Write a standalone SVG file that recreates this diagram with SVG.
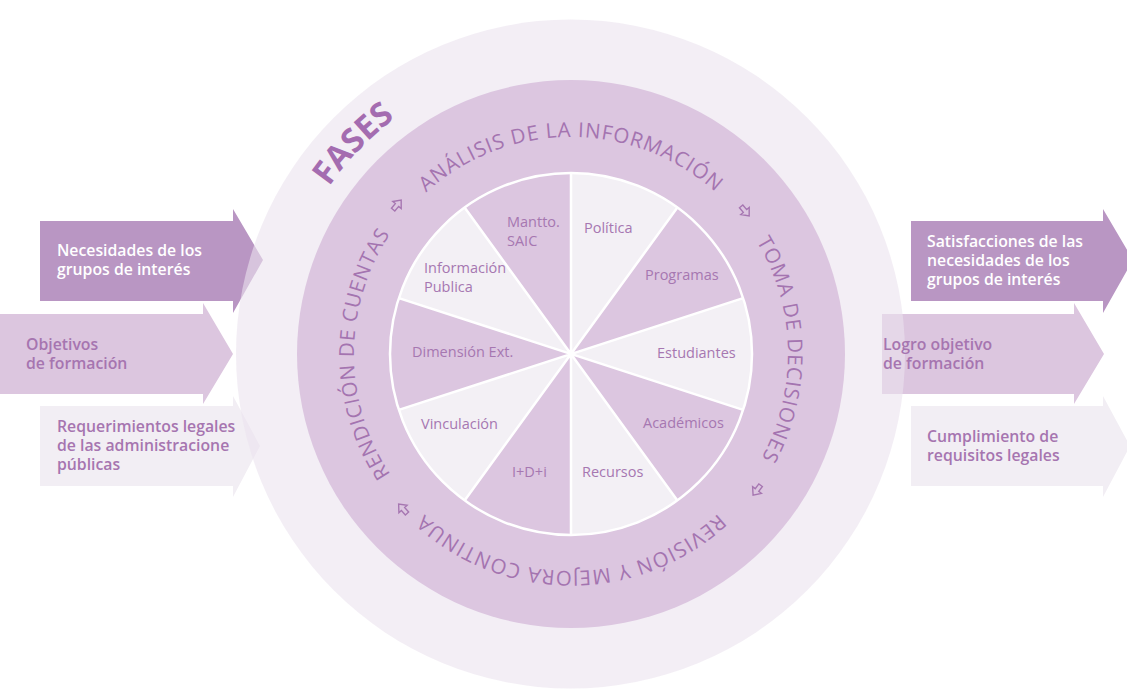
<svg xmlns="http://www.w3.org/2000/svg" xmlns:xlink="http://www.w3.org/1999/xlink" width="1127" height="695" viewBox="0 0 1127 695">
  <style>
    .dark { fill: #b996c3; }
    .mid { fill: #dcc6df; }
    .light { fill: #f2eef4; }
    .atw { font-family: "Open Sans", "Liberation Sans", sans-serif; font-size: 15.8px; font-weight: 600; fill: #ffffff; }
    .atp { font-family: "Open Sans", "Liberation Sans", sans-serif; font-size: 15.8px; font-weight: 600; fill: #a675b0; }
    .ring { font-family: "Open Sans", "Liberation Sans", sans-serif; font-size: 20.5px; fill: #a474b0; letter-spacing: 0.9px; }
    .slice { font-family: "Open Sans", "Liberation Sans", sans-serif; font-size: 14.5px; fill: #a677b1; }
    .sarrow { fill: none; stroke: #a676b1; stroke-width: 1.4; stroke-linejoin: miter; }
    .fases { font-family: "Open Sans", "Liberation Sans", sans-serif; font-size: 33px; font-weight: 700; fill: #a46cb0; }
  </style>
  <defs>
    <path id="pTop" d="M383.07,245.5 A217,217 0 0 1 758.93,245.5"/>
    <path id="pRight" d="M679.5,166.07 A217,217 0 0 1 679.5,541.93"/>
    <path id="pBottom" d="M758.93,462.5 A217,217 0 0 1 383.07,462.5"/>
    <path id="pLeft" d="M462.5,541.93 A217,217 0 0 1 462.5,166.07"/>
    <path id="pFases" d="M277.5,333.6 A294,294 0 0 1 540.3,61.6"/>
    <path id="sa" d="M-6,-2.2 L0,-2.2 L0,-5.5 L6.5,0 L0,5.5 L0,2.2 L-6,2.2 Z"/>
  </defs>
  <rect width="1127" height="695" fill="#ffffff"/>

  <g id="connectors">
    <g id="in-necesidades"><path class="dark" d="M40,221 L233,221 L233,209 L263,260 L233,313 L233,301 L40,301 Z"/></g>
    <g id="in-objetivos"><path class="mid" d="M0,314 L203,314 L203,303 L233,354 L203,404 L203,394 L0,394 Z"/></g>
    <g id="in-requerimientos"><path class="light" d="M40,406 L233,406 L233,396 L260,446 L233,497 L233,486 L40,486 Z"/></g>
    <g id="out-satisfacciones"><path class="dark" d="M911,221 L1103,221 L1103,209 L1133,260 L1103,313 L1103,301 L911,301 Z"/></g>
    <g id="out-logro"><path class="mid" d="M882,314 L1074,314 L1074,303 L1104,354 L1074,404 L1074,394 L882,394 Z"/></g>
    <g id="out-cumplimiento"><path class="light" d="M911,406 L1103,406 L1103,396 L1130,446 L1103,497 L1103,486 L911,486 Z"/></g>
  </g>

  <g id="outer">
    <circle cx="570.5" cy="354" r="334.5" fill="#ebe3ee" fill-opacity="0.6"/>
    <text class="fases"><textPath href="#pFases" xlink:href="#pFases" startOffset="50%" text-anchor="middle">FASES</textPath></text>
  </g>

  <g id="fases-ring">
    <circle cx="571" cy="354" r="274" fill="#dcc6e0"/>
    <text class="ring"><textPath href="#pTop" xlink:href="#pTop" startOffset="50%" text-anchor="middle">ANÁLISIS DE LA INFORMACIÓN</textPath></text>
    <text class="ring"><textPath href="#pRight" xlink:href="#pRight" startOffset="49%" text-anchor="middle">TOMA DE DECISIONES</textPath></text>
    <text class="ring"><textPath href="#pBottom" xlink:href="#pBottom" startOffset="50%" text-anchor="middle">REVISIÓN Y MEJORA CONTINUA</textPath></text>
    <text class="ring"><textPath href="#pLeft" xlink:href="#pLeft" startOffset="50%" text-anchor="middle">RENDICIÓN DE CUENTAS</textPath></text>
    <use href="#sa" xlink:href="#sa" class="sarrow" transform="translate(397,205) rotate(-50)"/>
    <use href="#sa" xlink:href="#sa" class="sarrow" transform="translate(745,211) rotate(50)"/>
    <use href="#sa" xlink:href="#sa" class="sarrow" transform="translate(757,490) rotate(127)"/>
    <use href="#sa" xlink:href="#sa" class="sarrow" transform="translate(403,509) rotate(228)"/>
  </g>

  <g id="pie">
    <circle cx="571" cy="354" r="181" fill="#f3f0f5"/>
    <path fill="#dcc6e0" d="M571,354 L677.39,207.57 A181,181 0 0 1 743.15,298.07 Z"/>
    <path fill="#dcc6e0" d="M571,354 L743.15,409.93 A181,181 0 0 1 677.39,500.43 Z"/>
    <path fill="#dcc6e0" d="M571,354 L571,535 A181,181 0 0 1 464.61,500.43 Z"/>
    <path fill="#dcc6e0" d="M571,354 L398.85,409.93 A181,181 0 0 1 398.85,298.07 Z"/>
    <path fill="#dcc6e0" d="M571,354 L464.61,207.57 A181,181 0 0 1 571,173 Z"/>
    <g stroke="#ffffff" stroke-width="2.5" fill="none">
      <path d="M571,173 L571,535 M677.39,207.57 L464.61,500.43 M743.15,298.07 L398.85,409.93 M743.15,409.93 L398.85,298.07 M677.39,500.43 L464.61,207.57"/>
      <circle cx="571" cy="354" r="181"/>
    </g>
  </g>

  <g id="slice-politica"><text class="slice" x="584" y="233">Política</text></g>
  <g id="slice-programas"><text class="slice" x="645" y="280">Programas</text></g>
  <g id="slice-estudiantes"><text class="slice" x="657" y="358">Estudiantes</text></g>
  <g id="slice-academicos"><text class="slice" x="643" y="428">Académicos</text></g>
  <g id="slice-recursos"><text class="slice" x="582" y="477">Recursos</text></g>
  <g id="slice-idi"><text class="slice" x="512" y="477">I+D+i</text></g>
  <g id="slice-vinculacion"><text class="slice" x="421" y="429">Vinculación</text></g>
  <g id="slice-dimension"><text class="slice" x="412" y="357">Dimensión Ext.</text></g>
  <g id="slice-informacion"><text class="slice" x="424" y="273">Información</text><text class="slice" x="424" y="292">Publica</text></g>
  <g id="slice-mantto"><text class="slice" x="507" y="227">Mantto.</text><text class="slice" x="507" y="246">SAIC</text></g>

  <g id="labels">
    <text class="atw" x="57" y="256">Necesidades de los</text>
    <text class="atw" x="57" y="275">grupos de interés</text>
    <text class="atp" x="26" y="350">Objetivos</text>
    <text class="atp" x="26" y="369">de formación</text>
    <text class="atp" x="57" y="432">Requerimientos legales</text>
    <text class="atp" x="57" y="451">de las administracione</text>
    <text class="atp" x="57" y="470">públicas</text>
    <text class="atw" x="927" y="247">Satisfacciones de las</text>
    <text class="atw" x="927" y="266">necesidades de los</text>
    <text class="atw" x="927" y="285">grupos de interés</text>
    <text class="atp" x="883" y="350">Logro objetivo</text>
    <text class="atp" x="883" y="369">de formación</text>
    <text class="atp" x="927" y="442">Cumplimiento de</text>
    <text class="atp" x="927" y="461">requisitos legales</text>
  </g>
</svg>
